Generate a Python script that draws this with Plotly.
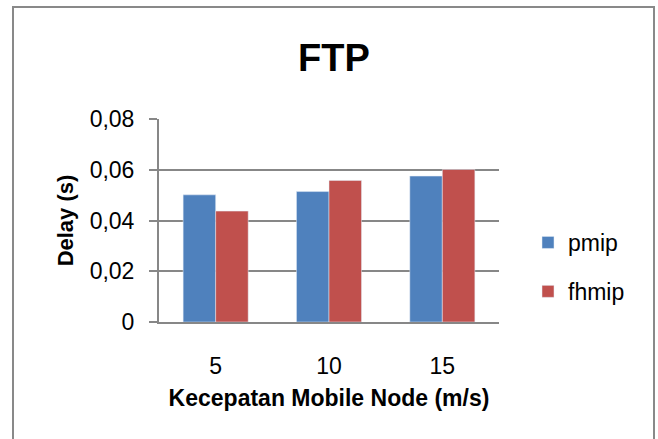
import plotly.graph_objects as go

categories = ["5", "10", "15"]
pmip = [0.0501, 0.0514, 0.0575]
fhmip = [0.0437, 0.0558, 0.0601]
ytick_vals = [0, 0.02, 0.04, 0.06, 0.08]
ytick_text = ["0", "0,02", "0,04", "0,06", "0,08"]

FONT = "Liberation Sans, Arial, sans-serif"
GRID = "#878787"

fig = go.Figure()
fig.add_trace(go.Bar(name="pmip", x=categories, y=pmip, marker_color="#4F81BD",
                     legendgroup="a"))
fig.add_trace(go.Bar(name="fhmip", x=categories, y=fhmip, marker_color="#C0504D",
                     legendgroup="b"))

W, H = 658, 439
L, R, T, B = 159, 159, 119, 117
pw, ph = W - L - R, H - T - B

def px(x):
    return (x - L) / pw

def py(y):
    return (H - B - y) / ph

fig.update_layout(
    width=W, height=H,
    margin=dict(l=L, r=R, t=T, b=B),
    paper_bgcolor="white", plot_bgcolor="white",
    font=dict(family=FONT, color="black", size=23),
    barmode="group", bargap=0.426, bargroupgap=0,
    title=dict(text="<b>FTP</b>", x=px(334), xref="paper", xanchor="center",
               y=1 - 58 / H, yanchor="middle",
               font=dict(family=FONT, size=38, color="black")),
    legend=dict(x=px(528), xanchor="left", y=py(267), yanchor="middle",
                traceorder="grouped", tracegroupgap=16,
                font=dict(family=FONT, size=23, color="black"),
                bgcolor="rgba(0,0,0,0)"),
    shapes=[dict(type="rect", xref="paper", yref="paper",
                 x0=px(13), x1=px(654), y0=py(448), y1=py(7),
                 line=dict(color="#898989", width=2), layer="below")],
)

fig.update_xaxes(
    showgrid=False, showline=True, linecolor=GRID, linewidth=2,
    ticks="", ticklabelstandoff=22,
    tickfont=dict(family=FONT, size=23),
    title=dict(text="<b>Kecepatan Mobile Node (m/s)</b>", standoff=12,
               font=dict(family=FONT, size=23)),
)
fig.update_yaxes(
    range=[0, 0.08], tickvals=ytick_vals, ticktext=ytick_text,
    showgrid=True, gridcolor=GRID, gridwidth=2,
    showline=True, linecolor=GRID, linewidth=2,
    ticks="outside", ticklen=8, tickcolor=GRID, tickwidth=2,
    ticklabelstandoff=10, zeroline=False,
    tickfont=dict(family=FONT, size=23),
    title=dict(text="<b>Delay (s)</b>", standoff=10,
               font=dict(family=FONT, size=22)),
)

fig.write_html("out.html")
